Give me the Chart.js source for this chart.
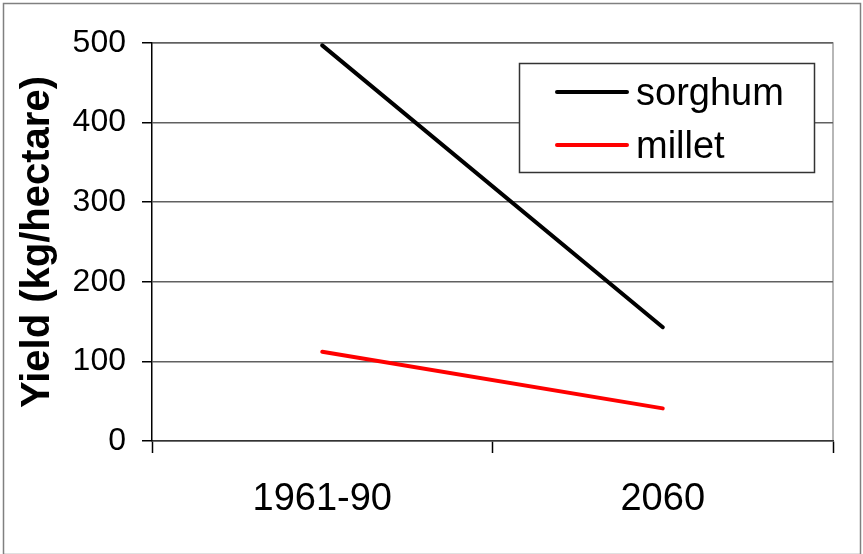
<!DOCTYPE html>
<html>
<head>
<meta charset="utf-8">
<script src="https://cdn.jsdelivr.net/npm/chart.js@4.4.1/dist/chart.umd.min.js"></script>
<style>
  html, body { margin: 0; padding: 0; background: #fff; }
  #wrap { position: relative; width: 863px; height: 554px; }
</style>
</head>
<body>
<div id="wrap"><canvas id="yieldChart" width="863" height="554"></canvas></div>
<script>
// Chart data
const periods = ['1961-90', '2060'];
const sorghum = [497, 143];
const millet = [112, 41];
const yTicks = [0, 100, 200, 300, 400, 500];

const FONT = 'Arial, "Liberation Sans", sans-serif';

// outer frame + plot border
const framePlugin = {
  id: 'frame',
  beforeDraw(chart) {
    const ctx = chart.ctx;
    ctx.save();
    ctx.fillStyle = '#fff';
    ctx.fillRect(0, 0, chart.width, chart.height);
    ctx.strokeStyle = '#808080';
    ctx.lineWidth = 1.5;
    ctx.strokeRect(3.5, 3.5, chart.width - 6, chart.height - 3);
    const a = chart.chartArea;
    ctx.strokeStyle = '#a0a0a0';
    ctx.lineWidth = 1.5;
    ctx.beginPath();
    ctx.moveTo(a.left, a.top);
    ctx.lineTo(a.right, a.top);
    ctx.lineTo(a.right, a.bottom);
    ctx.stroke();
    ctx.restore();
  }
};

// legend box drawn inside the plot area
const boxLegend = {
  id: 'boxLegend',
  afterDraw(chart) {
    const ctx = chart.ctx;
    ctx.save();
    ctx.fillStyle = '#fff';
    ctx.fillRect(519, 63, 295, 109);
    ctx.strokeStyle = '#333';
    ctx.lineWidth = 1.5;
    ctx.strokeRect(519.5, 63.5, 295, 109);
    chart.data.datasets.forEach((ds, i) => {
      const y = 92 + i * 53;
      ctx.strokeStyle = ds.borderColor;
      ctx.lineWidth = 4;
      ctx.lineCap = 'round';
      ctx.beginPath();
      ctx.moveTo(557, y);
      ctx.lineTo(627, y);
      ctx.stroke();
      ctx.fillStyle = '#000';
      ctx.font = '38px ' + FONT;
      ctx.textBaseline = 'middle';
      ctx.fillText(ds.label, 636, y + 3);
    });
    ctx.restore();
  }
};

const ctx = document.getElementById('yieldChart').getContext('2d');
new Chart(ctx, {
  type: 'line',
  data: {
    labels: periods,
    datasets: [
      { label: 'sorghum', data: sorghum, borderColor: '#000000', borderWidth: 4, pointRadius: 0, borderCapStyle: 'round', fill: false },
      { label: 'millet', data: millet, borderColor: '#ff0000', borderWidth: 4, pointRadius: 0, borderCapStyle: 'round', fill: false }
    ]
  },
  options: {
    responsive: false,
    animation: false,
    layout: { padding: { top: 43, right: 30, left: 0, bottom: 0 } },
    plugins: {
      legend: { display: false },
      tooltip: { enabled: false }
    },
    scales: {
      x: {
        offset: true,
        grid: { offset: true, drawOnChartArea: false, drawTicks: true, tickLength: 12, tickColor: '#000', tickWidth: 1.5 },
        border: { color: '#333', width: 1.5 },
        ticks: { color: '#000', font: { family: FONT, size: 38 }, padding: 24, maxRotation: 0 },
        afterFit: (scale) => { scale.height = 113; }
      },
      y: {
        min: 0,
        max: 500,
        afterBuildTicks: (scale) => { scale.ticks = yTicks.map(v => ({ value: v })); },
        grid: { color: '#606060', lineWidth: 1.5, tickLength: 10, tickColor: '#000' },
        border: { color: '#000', width: 1.5 },
        ticks: { color: '#000', font: { family: FONT, size: 32 }, padding: 16 },
        title: {
          display: true,
          text: 'Yield (kg/hectare)',
          color: '#000',
          font: { family: FONT, size: 40, weight: 'bold' },
          padding: { top: 14, bottom: 0 }
        },
        afterFit: (scale) => { scale.width = 152; }
      }
    }
  },
  plugins: [framePlugin, boxLegend]
});
</script>
</body>
</html>
